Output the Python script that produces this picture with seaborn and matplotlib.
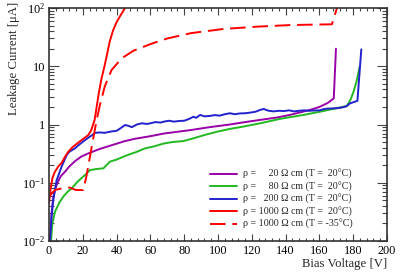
import numpy as np
import pandas as pd
import matplotlib
matplotlib.use("Agg")
import matplotlib.pyplot as plt
import matplotlib.ticker as mticker
import seaborn as sns

# ---- data ----
v_20 = [0.6, 1.5, 2.5, 3.5, 5, 7, 9.5, 12, 15.4, 19, 23.3, 30, 37, 45, 51, 60, 68, 76, 83.5,
        95, 107, 116, 125, 135, 142, 150, 155, 160, 165, 168.5, 169.8]
i_20 = [0.01, 0.03, 0.055, 0.075, 0.1, 0.13, 0.155, 0.19, 0.235, 0.28, 0.32, 0.38, 0.44, 0.52,
        0.57, 0.63, 0.7, 0.75, 0.8, 0.9, 1.0, 1.1, 1.2, 1.32, 1.45, 1.65, 1.8, 2.0, 2.35, 2.8, 20]

v_80 = [1.2, 2, 3.6, 6, 8.5, 11, 13.4, 17, 21.3, 24.3, 28, 32.2, 36, 40, 44, 48, 52, 56.9, 62,
        67.7, 73, 79.6, 85.5, 92, 99.3, 107, 115, 125, 136.8, 150, 160, 170, 176.3, 178.5,
        180.2, 182, 183.8]
i_80 = [0.01, 0.02, 0.032, 0.045, 0.058, 0.07, 0.08, 0.105, 0.136, 0.165, 0.172, 0.177, 0.23,
        0.25, 0.28, 0.31, 0.34, 0.39, 0.42, 0.47, 0.5, 0.52, 0.58, 0.66, 0.75, 0.84, 0.92, 1.05,
        1.25, 1.45, 1.65, 1.9, 2.08, 2.7, 3.66, 5.5, 9.8]

v_200 = [0.6, 1.5, 2.5, 4.5, 7.5, 10.5, 12, 15.4, 17.4, 21.3, 25.3, 27.2, 30, 33, 37, 40, 42,
         45, 47, 49, 52, 55, 58, 60, 63, 66, 68, 71, 74, 77, 80, 83, 85.5, 87, 89.4, 92, 95,
         98, 101, 104, 107, 110, 113, 116, 119, 122, 125, 127, 130, 133, 136, 139, 142, 145,
         148, 151, 154, 157, 160, 163, 166, 170, 173, 176, 178, 182.5, 184.8]
i_200 = [0.01, 0.025, 0.05, 0.11, 0.19, 0.3, 0.34, 0.39, 0.44, 0.54, 0.65, 0.72, 0.73, 0.72,
         0.76, 0.78, 0.85, 0.98, 0.95, 0.9, 1.0, 1.05, 1.02, 1.05, 1.1, 1.08, 1.12, 1.16, 1.12,
         1.15, 1.16, 1.25, 1.36, 1.3, 1.46, 1.38, 1.4, 1.45, 1.42, 1.5, 1.56, 1.5, 1.55, 1.56,
         1.6, 1.65, 1.78, 1.85, 1.72, 1.68, 1.72, 1.7, 1.75, 1.68, 1.72, 1.75, 1.72, 1.74,
         1.75, 1.85, 1.88, 1.9, 1.95, 2.05, 2.3, 2.55, 19.5]

v_1000 = [0, 1, 2, 3.5, 5.5, 7.5, 9.5, 11.4, 14, 17.4, 20, 23.3, 25, 27, 28.2, 29.5, 31, 33,
          36, 38, 40, 42, 45]
i_1000 = [0.045, 0.08, 0.12, 0.155, 0.19, 0.22, 0.28, 0.34, 0.41, 0.49, 0.56, 0.66, 0.8, 1.2,
          2.0, 3.5, 6, 10.5, 27, 42, 57, 72, 100]

v_1000c = [0, 3.5, 7.5, 12, 16, 20.3, 22.3, 25.3, 28.2, 30.2, 33, 37, 43, 50, 60, 70, 84, 103,
           123, 143, 167.4, 170.4]
i_1000c = [0.058, 0.075, 0.08, 0.083, 0.075, 0.075, 0.136, 0.42, 1.2, 2.2, 4.5, 8.6, 13.7,
           18.5, 24, 30, 37, 43.6, 47.8, 51, 52.5, 100]

labels = ["ρ =     20 Ω cm (T =  20°C)",
          "ρ =     80 Ω cm (T =  20°C)",
          "ρ =   200 Ω cm (T =  20°C)",
          "ρ = 1000 Ω cm (T =  20°C)",
          "ρ = 1000 Ω cm (T = -35°C)"]
colors = ["#9900a8", "#22b822", "#2222cc", "#ff0000", "#ff0000"]

sns.set_theme(style="ticks")
plt.rcParams["font.family"] = ["Liberation Serif", "DejaVu Serif"]
plt.rcParams["mathtext.fontset"] = "custom"
plt.rcParams["mathtext.rm"] = "Liberation Serif"
plt.rcParams["mathtext.it"] = "Liberation Serif:italic"

fig = plt.figure(figsize=(4.07, 2.77), dpi=100)
ax = fig.add_axes([49 / 407, 1 - 241 / 277, 338 / 407, 233 / 277])

series = [(v_20, i_20), (v_80, i_80), (v_200, i_200), (v_1000, i_1000), (v_1000c, i_1000c)]
for k, ((vv, ii), lab, col) in enumerate(zip(series, labels, colors)):
    df = pd.DataFrame({"V": vv, "I": ii})
    sns.lineplot(data=df, x="V", y="I", color=col, label=lab, ax=ax,
                 estimator=None, sort=False, linewidth=1.4)
    if k == 4:
        ax.lines[-1].set_dashes([8, 3.5])

ax.set_yscale("log")
ax.set_xlim(0, 200)
ax.set_ylim(1e-2, 1e2)

ax.xaxis.set_major_locator(mticker.MultipleLocator(20))
ax.xaxis.set_minor_locator(mticker.MultipleLocator(4))
ax.yaxis.set_major_locator(mticker.LogLocator(base=10, numticks=10))
ax.yaxis.set_minor_locator(mticker.LogLocator(base=10, subs=np.arange(2, 10), numticks=20))
ax.yaxis.set_minor_formatter(mticker.NullFormatter())

ylab_map = {-2: r"$10^{-2}$", -1: r"$10^{-1}$", 0: "1", 1: "10", 2: r"$10^{2}$"}
ax.yaxis.set_major_formatter(mticker.FuncFormatter(
    lambda v, p: ylab_map.get(int(round(np.log10(v))), "")))

tcol = "#444444"
ax.tick_params(axis="both", which="both", direction="in", top=True, right=True,
               colors=tcol, labelcolor="black", labelsize=8.8, pad=3.0)
ax.tick_params(axis="x", which="major", length=5, width=0.8)
ax.tick_params(axis="x", which="minor", length=2.5, width=0.8)
ax.tick_params(axis="y", which="major", length=7, width=0.8)
ax.tick_params(axis="y", which="minor", length=3.5, width=0.8)
for s in ax.spines.values():
    s.set_color("#333333")
    s.set_linewidth(1.2)

ax.set_xlabel("Bias Voltage [V]", fontsize=9.2, ha="right")
ax.xaxis.set_label_coords(1.0, -0.075)
ax.set_ylabel("Leakage Current [μA]", fontsize=9.2, ha="right")
ax.yaxis.set_label_coords(-0.087, 1.026)

leg = ax.legend(loc="lower left", bbox_to_anchor=(0.476, 0.05), frameon=False,
                fontsize=7.2, handlelength=2.7, handletextpad=0.6, labelspacing=0.25,
                borderpad=0, borderaxespad=0)

fig.savefig("out.png", dpi=100)
